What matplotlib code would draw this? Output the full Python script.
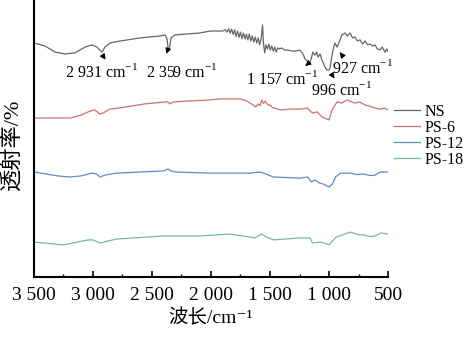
import matplotlib
matplotlib.use("Agg")
import matplotlib.pyplot as plt
from matplotlib.ticker import MultipleLocator

plt.rcParams['font.family'] = ['Liberation Serif', 'Noto Sans CJK SC', 'DejaVu Sans']
plt.rcParams['mathtext.fontset'] = 'custom'
plt.rcParams['mathtext.rm'] = 'Liberation Serif'
plt.rcParams['axes.unicode_minus'] = False

# NS
ns_wn = [3500, 3407, 3322, 3237, 3153, 3068, 3008, 2966, 2941, 2924, 2898, 2856, 2771, 2602,
         2432, 2390, 2373, 2360, 2350, 2339, 2305, 2093, 2008, 1924, 1900, 1880, 1865, 1850,
         1838, 1825, 1812, 1800, 1788, 1775, 1762, 1750, 1738, 1725, 1712, 1700, 1688, 1675,
         1662, 1650, 1638, 1625, 1612, 1600, 1588, 1575, 1563, 1556, 1545, 1535, 1522, 1510,
         1498, 1485, 1472, 1460, 1447, 1435, 1420, 1400, 1380, 1350, 1300, 1246, 1220, 1203,
         1175, 1161, 1145, 1136, 1120, 1105, 1093, 1075, 1060, 1051, 1035, 1017, 1000, 992,
         980, 966, 950, 932, 907, 890, 864, 845, 822, 800, 780, 760, 737, 715, 695, 672, 652,
         630, 610, 590, 568, 550, 525, 510, 500]
ns_t = [84.5, 83.4, 81.2, 80.5, 80.9, 83.0, 83.8, 83.0, 81.9, 81.2, 83.0, 84.5, 85.2, 86.3,
        87.0, 87.4, 86.0, 81.5, 83.0, 86.3, 87.4, 88.1, 88.8, 88.8, 88.8, 89.3, 88.4, 89.6,
        88.0, 89.5, 87.6, 89.2, 86.8, 88.8, 86.5, 88.4, 86.0, 88.1, 85.9, 87.7, 85.6, 87.7,
        85.2, 87.0, 84.8, 86.6, 84.5, 86.3, 83.8, 86.0, 91.0, 84.5, 80.9, 83.8, 82.3, 84.1,
        81.9, 83.4, 81.5, 83.0, 81.2, 82.7, 82.3, 82.7, 82.0, 81.9, 81.5, 81.9, 80.5, 78.7,
        77.6, 77.3, 79.8, 81.2, 80.1, 81.2, 79.4, 80.5, 78.3, 77.6, 75.8, 74.7, 74.7, 75.4,
        78.7, 82.0, 84.5, 83.0, 85.6, 87.4, 88.1, 87.0, 88.1, 86.3, 86.6, 85.2, 85.6, 84.1,
        85.2, 83.8, 84.1, 83.4, 83.8, 82.3, 82.0, 83.0, 81.2, 82.3, 81.5]

# PS-6
ps6_wn = [3500, 3400, 3190, 3100, 3025, 2985, 2941, 2915, 2856, 2720, 2560, 2390, 2365, 2350,
          2320, 2220, 2008, 1924, 1754, 1700, 1669, 1640, 1620, 1600, 1585, 1570, 1555, 1540,
          1530, 1515, 1500, 1480, 1460, 1415, 1330, 1246, 1186, 1140, 1100, 1060, 1017, 1000,
          975, 932, 890, 850, 780, 740, 695, 650, 610, 568, 530, 500]
ps6_t = [57.4, 57.4, 57.4, 58.5, 59.9, 60.3, 58.8, 59.2, 60.6, 61.4, 62.5, 63.2, 63.2, 62.5,
         63.2, 63.5, 63.9, 64.3, 64.3, 63.6, 62.8, 62.0, 61.4, 62.5, 61.8, 63.9, 62.6, 63.5,
         62.8, 62.0, 62.1, 61.2, 61.0, 60.3, 60.6, 60.6, 61.0, 59.2, 59.6, 57.8, 57.0, 56.7,
         60.3, 63.2, 62.8, 63.9, 62.8, 63.2, 62.1, 61.6, 61.0, 60.6, 61.0, 60.3]

# PS-12
ps12_wn = [3500, 3300, 3200, 3100, 3008, 2970, 2941, 2900, 2800, 2600, 2400, 2365, 2340, 2300,
           2000, 1839, 1669, 1580, 1470, 1246, 1180, 1150, 1120, 1080, 1051, 1000, 970, 945,
           900, 820, 760, 710, 650, 610, 568, 500]
ps12_t = [37.9, 36.5, 36.1, 36.5, 37.5, 37.2, 36.1, 36.8, 37.5, 37.9, 38.3, 39.0, 38.3, 37.9,
          37.5, 37.5, 37.5, 37.9, 36.1, 35.7, 36.1, 34.3, 35.0, 33.9, 33.6, 32.5, 33.6, 36.1,
          37.5, 37.5, 37.0, 37.2, 36.6, 36.8, 37.9, 37.9]

# PS-18
ps18_wn = [3500, 3250, 3040, 3000, 2941, 2800, 2400, 2100, 1840, 1669, 1630, 1570, 1530, 1470,
           1246, 1160, 1140, 1060, 1000, 940, 820, 760, 710, 650, 610, 560, 500]
ps18_t = [12.6, 11.6, 13.4, 13.4, 12.3, 13.7, 14.8, 14.8, 15.5, 14.4, 14.1, 15.5, 14.4, 13.4,
          14.1, 14.1, 12.3, 12.6, 11.6, 14.4, 16.2, 15.4, 15.2, 14.6, 14.8, 15.9, 15.5]

series = [("NS", ns_wn, ns_t, "#666666"),
          ("PS-6", ps6_wn, ps6_t, "#cf6f6f"),
          ("PS-12", ps12_wn, ps12_t, "#5f8cc0"),
          ("PS-18", ps18_wn, ps18_t, "#7ab8a0")]

# peak labels: text, text position, arrow tail, arrow head
peak_labels = [("2 931", (2924, 74.0), (2932, 80.9), (2881, 77.6)),
               ("2 359", (2246, 74.0), (2365, 82.3), (2385, 79.6)),
               ("1 157", (1398, 71.5), (1169, 77.3), (1220, 75.5)),
               ("996", (890, 67.5), (983, 73.6), (941, 70.8)),
               ("927", (720, 75.5), (890, 80.1), (924, 81.9))]

xticks = [3500, 3000, 2500, 2000, 1500, 1000, 500]
xtick_labels = ["3 500", "3 000", "2 500", "2 000", "1 500", "1 000", "500"]

fig = plt.figure(figsize=(4.69, 3.44), dpi=100)
ax = fig.add_axes([34 / 469, 1 - 277 / 344, 354 / 469, 277 / 344])

for name, wn, t, c in series:
    ax.plot(wn, t, color=c, lw=0.9, label=name)

for txt, tpos, tail, head in peak_labels:
    ax.annotate("", xy=head, xytext=tail,
                arrowprops=dict(arrowstyle="-|>", color="black", lw=0.8, mutation_scale=8))
    ax.text(tpos[0], tpos[1], txt + " cm$^{-1}$", ha="center", va="center", fontsize=11.5)

ax.set_xlim(3500, 500)
ax.set_ylim(0, 100)
ax.set_xticks(xticks)
ax.set_xticklabels(xtick_labels, fontsize=14)
ax.xaxis.set_minor_locator(MultipleLocator(250))
ax.tick_params(axis="x", which="major", direction="in", length=4, width=1.2, pad=7)
ax.tick_params(axis="x", which="minor", direction="in", length=2, width=1)
ax.set_yticks([])
for s in ["top", "right"]:
    ax.spines[s].set_visible(False)
for s in ["left", "bottom"]:
    ax.spines[s].set_linewidth(1.5)

ax.set_xlabel("波长/cm⁻¹", fontsize=14, labelpad=4)
ax.set_ylabel("透射率/%", fontsize=16)
ax.yaxis.set_label_coords(-0.03, 0.48)

fig.legend(loc="upper left", bbox_to_anchor=(394 / 469, 1 - 104 / 344), frameon=False,
           fontsize=11.5, handlelength=1.6, handletextpad=0.3, labelspacing=0.0,
           borderpad=0, borderaxespad=0)

fig.savefig("out.png", dpi=100)
